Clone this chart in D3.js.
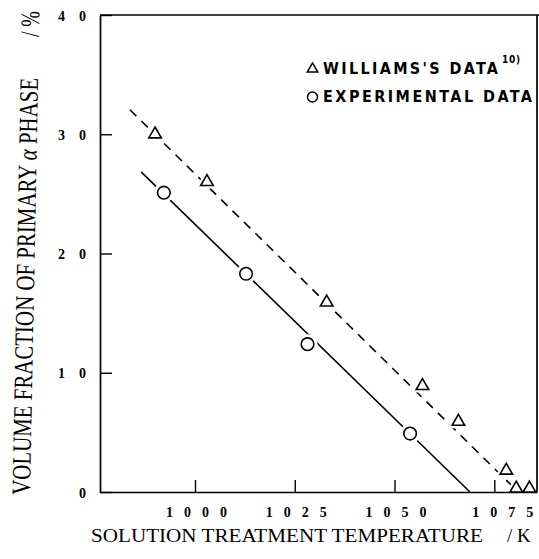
<!DOCTYPE html>
<html>
<head>
<meta charset="utf-8">
<script src="https://cdn.jsdelivr.net/npm/d3@7"></script>
<style>
  html, body { margin: 0; padding: 0; background: #fff; }
  svg { display: block; }
</style>
</head>
<body>
<svg id="chart" width="539" height="559"></svg>
<script>
// data
const williamsTemp = [990, 1003, 1033, 1057, 1066, 1078, 1080.5, 1083.8];
const williamsFrac = [30, 26, 15.9, 8.9, 5.9, 1.8, 0.3, 0.3];

const expTemp = [992.2, 1012.8, 1028.2, 1053.9];
const expFrac = [25.1, 18.3, 12.4, 4.9];

// fitted lines (end points)
const williamsFitTemp = [983.7, 1081];
const williamsFitFrac = [32.05, 0];
const expFitTemp = [986.5, 1068.9];
const expFitFrac = [26.85, 0];

const xTicks = [1000, 1025, 1050, 1075];
const yTicks = [0, 10, 20, 30, 40];

const svg = d3.select('#chart');
// generic serif fell back to a sans here, so name DejaVu Serif too
const serif = '"Liberation Serif", "DejaVu Serif"';
const legendFont = '"Liberation Sans Narrow", "DejaVu Sans Condensed", "Liberation Sans", sans-serif';

// plot box (window.top is taken, so m*)
const mLeft = 100, mRight = 537, mTop = 15, mBottom = 492;

const x = d3.scaleLinear().domain([976.2, 1085.7]).range([mLeft, mRight]);
const y = d3.scaleLinear().domain([0, 40]).range([mBottom, mTop]);

const pts = (xs, ys) => xs.map((d, i) => ({ t: d, v: ys[i] }));
const williams = pts(williamsTemp, williamsFrac);
const experimental = pts(expTemp, expFrac);

const line = d3.line().x(d => x(d.t)).y(d => y(d.v));

// fit lines
svg.append('path')
  .datum(pts(williamsFitTemp, williamsFitFrac))
  .attr('d', line)
  .attr('fill', 'none')
  .attr('stroke', '#000')
  .attr('stroke-width', 1.6)
  .attr('stroke-dasharray', '9,7');

svg.append('path')
  .datum(pts(expFitTemp, expFitFrac))
  .attr('d', line)
  .attr('fill', 'none')
  .attr('stroke', '#000')
  .attr('stroke-width', 1.6);

const tri = d3.symbol(d3.symbolTriangle, 68);

// white halos so the lines break around the markers
svg.append('g').selectAll('circle')
  .data(experimental)
  .enter().append('circle')
  .attr('cx', d => x(d.t))
  .attr('cy', d => y(d.v))
  .attr('r', 10)
  .attr('fill', '#fff');

svg.append('g').selectAll('path')
  .data(williams)
  .enter().append('path')
  .attr('d', tri)
  .attr('transform', d => `translate(${x(d.t)},${y(d.v)})`)
  .attr('fill', '#fff')
  .attr('stroke', '#fff')
  .attr('stroke-width', 6);

// frame
const frame = svg.append('g')
  .attr('fill', 'none')
  .attr('stroke', '#000')
  .attr('stroke-width', 1.7);
frame.append('line').attr('x1', mLeft).attr('x2', 539).attr('y1', mTop).attr('y2', mTop);
frame.append('line').attr('x1', mRight).attr('x2', mRight).attr('y1', mTop).attr('y2', mBottom);

// x axis, ticks pointing up into the plot
const xAxis = svg.append('g')
  .attr('transform', `translate(0,${mBottom})`)
  .call(d3.axisBottom(x).tickValues(xTicks).tickFormat(d3.format('d'))
    .tickSize(-12).tickSizeOuter(0).tickPadding(14));
xAxis.select('.domain').attr('stroke-width', 1.7);
xAxis.selectAll('.tick line').attr('stroke-width', 1.4);
xAxis.selectAll('.tick text')
  .attr('y', 25)
  .attr('dy', 0)
  .attr('dx', d => d === 1075 ? 8 : 1)
  .attr('font-family', serif)
  .attr('font-weight', 'bold')
  .attr('font-size', 14)
  .attr('textLength', 61)
  .attr('lengthAdjust', 'spacing')
  .attr('fill', '#000');

// y axis, ticks pointing right
const yAxis = svg.append('g')
  .attr('transform', `translate(${mLeft},0)`)
  .call(d3.axisLeft(y).tickValues(yTicks).tickSize(-12).tickSizeOuter(0).tickPadding(14));
yAxis.select('.domain').attr('stroke-width', 1.7);
yAxis.selectAll('.tick line').attr('stroke-width', 1.4);
yAxis.selectAll('.tick text')
  .attr('x', -14)
  .attr('dy', '0.36em')
  .attr('font-family', serif)
  .attr('font-weight', 'bold')
  .attr('font-size', 14)
  .attr('textLength', d => d === 0 ? null : 28)
  .attr('lengthAdjust', 'spacing')
  .attr('fill', '#000');

// markers
svg.append('g').selectAll('circle')
  .data(experimental)
  .enter().append('circle')
  .attr('cx', d => x(d.t))
  .attr('cy', d => y(d.v))
  .attr('r', 6.3)
  .attr('fill', '#fff')
  .attr('stroke', '#000')
  .attr('stroke-width', 1.6);

svg.append('g').selectAll('path')
  .data(williams)
  .enter().append('path')
  .attr('d', tri)
  .attr('transform', d => `translate(${x(d.t)},${y(d.v)})`)
  .attr('fill', '#fff')
  .attr('stroke', '#000')
  .attr('stroke-width', 1.6);

// legend
const legend = svg.append('g');
legend.append('path')
  .attr('d', d3.symbol(d3.symbolTriangle, 48))
  .attr('transform', 'translate(312.5,69)')
  .attr('fill', '#fff')
  .attr('stroke', '#000')
  .attr('stroke-width', 1.5);
legend.append('circle')
  .attr('cx', 312.5)
  .attr('cy', 97)
  .attr('r', 5)
  .attr('fill', '#fff')
  .attr('stroke', '#000')
  .attr('stroke-width', 1.5);

legend.append('text')
  .attr('x', 323)
  .attr('y', 74)
  .attr('font-family', legendFont)
  .attr('font-weight', 'bold')
  .attr('font-size', 16)
  .attr('textLength', 175)
  .attr('lengthAdjust', 'spacing')
  .text("WILLIAMS'S DATA");
legend.append('text')
  .attr('x', 502)
  .attr('y', 63)
  .attr('font-family', legendFont)
  .attr('font-weight', 'bold')
  .attr('font-size', 10)
  .attr('textLength', 18)
  .attr('lengthAdjust', 'spacing')
  .text('10)');
legend.append('text')
  .attr('x', 323)
  .attr('y', 101.5)
  .attr('font-family', legendFont)
  .attr('font-weight', 'bold')
  .attr('font-size', 16)
  .attr('textLength', 209)
  .attr('lengthAdjust', 'spacing')
  .text('EXPERIMENTAL DATA');

// axis titles
svg.append('text')
  .attr('x', 91)
  .attr('y', 542)
  .attr('font-family', serif)
  .attr('font-size', 19)
  .attr('textLength', 392)
  .attr('lengthAdjust', 'spacingAndGlyphs')
  .text('SOLUTION TREATMENT TEMPERATURE');
svg.append('text')
  .attr('x', 507)
  .attr('y', 542)
  .attr('font-family', serif)
  .attr('font-size', 19)
  .text('/ K');

// y title is a bit skewed and stretched in the scan
const yTitle = svg.append('g')
  .attr('transform', 'translate(30,495) rotate(-88.9) scale(1,1.4)');
const yt = yTitle.append('text')
  .attr('x', 0)
  .attr('y', 0)
  .attr('font-family', serif)
  .attr('font-size', 19)
  .attr('textLength', 417)
  .attr('lengthAdjust', 'spacingAndGlyphs');
yt.append('tspan').text('VOLUME FRACTION OF PRIMARY ');
yt.append('tspan').attr('font-style', 'italic').text('α');
yt.append('tspan').text(' PHASE');
yTitle.append('text')
  .attr('x', 458)
  .attr('y', 0)
  .attr('font-family', serif)
  .attr('font-size', 19)
  .text('/ %');
</script>
</body>
</html>
